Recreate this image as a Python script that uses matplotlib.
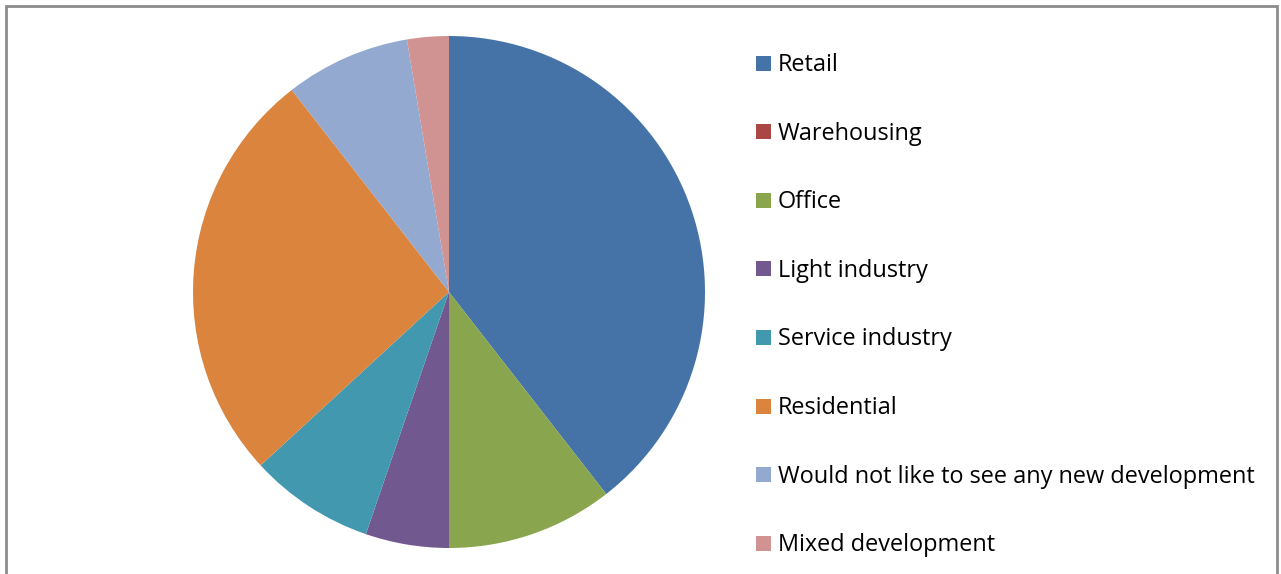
import matplotlib
matplotlib.use("Agg")
import matplotlib.pyplot as plt
from matplotlib.patches import Rectangle

categories = ["Retail", "Warehousing", "Office", "Light industry", "Service industry",
              "Residential", "Would not like to see any new development", "Mixed development"]
responses = [15, 0, 4, 2, 3, 10, 3, 1]
colors = ["#4572A7", "#AA4643", "#89A54E", "#71588F", "#4198AF",
          "#DB843D", "#93A9CF", "#D19392"]

W, H = 1281, 574
fig = plt.figure(figsize=(W / 100, H / 100), dpi=100)
fig.patch.set_facecolor("white")

# chart frame (bottom edge runs off the image)
frame = Rectangle((5.5 / W, -0.05), (1277 - 5.5) / W, 1 - 5.5 / H + 0.05,
                  transform=fig.transFigure, fill=False, edgecolor="#8c8c8c", linewidth=2)
fig.patches.append(frame)

cx, cy, r = 449, 292, 256
ax = fig.add_axes([(cx - r) / W, (H - cy - r) / H, 2 * r / W, 2 * r / H])
ax.pie(responses, colors=colors, startangle=90, counterclock=False,
       wedgeprops=dict(linewidth=0))
ax.set_aspect("equal")
ax.set_xlim(-1, 1)
ax.set_ylim(-1, 1)
ax.axis("off")

# legend entries
y0, step = 63, 68.6
for i, (lab, col) in enumerate(zip(categories, colors)):
    y = y0 + i * step
    fig.patches.append(Rectangle((756 / W, (H - y - 7.5) / H), 15 / W, 15 / H,
                                 transform=fig.transFigure, facecolor=col, edgecolor="none"))
    fig.text(778 / W, (H - y - 8) / H, lab, fontsize=16.9, family="Open Sans",
             va="baseline", ha="left", color="black")

fig.savefig("out.png", dpi=100)
